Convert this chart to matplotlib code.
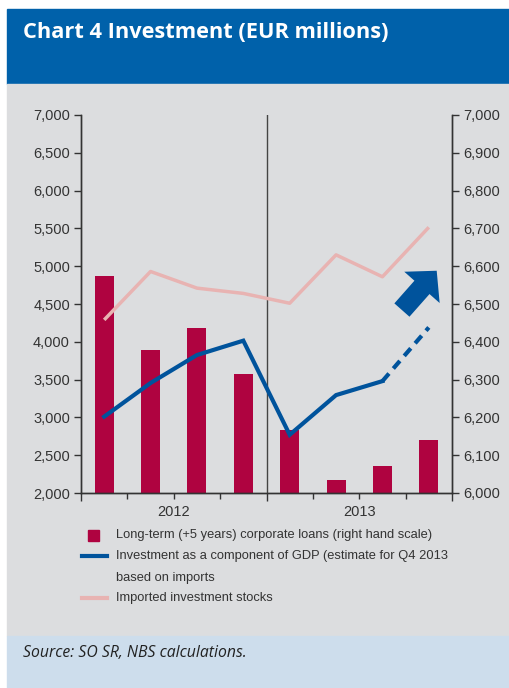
import matplotlib.pyplot as plt
import matplotlib.patches as mpatches
from matplotlib.lines import Line2D
import numpy as np

# quarterly data, Q1 2012 .. Q4 2013
years = ["2012", "2013"]
loans = [6574, 6378, 6436, 6315, 6167, 6034, 6071, 6140]          # right hand scale
investment = [3010, 3455, 3825, 4015, 2770, 3295, 3480, 4190]     # Q4 2013 is an estimate
imports = [4290, 4930, 4710, 4640, 4510, 5150, 4860, 5515]

left_ticks = list(range(2000, 7001, 500))
right_ticks = list(range(6000, 7001, 100))

title = "Chart 4 Investment (EUR millions)"
source = "Source: SO SR, NBS calculations."
legend_labels = [
    "Long-term (+5 years) corporate loans (right hand scale)",
    "Investment as a component of GDP (estimate for Q4 2013\nbased on imports",
    "Imported investment stocks",
]

BAR = "#AF0340"
BLUE = "#00539C"
PINK = "#E8B3B2"
TXT = "#333333"
FONT = ["Liberation Sans", "DejaVu Sans"]

W, H = 509, 688
fig = plt.figure(figsize=(W / 100, H / 100), dpi=100)
fig.patch.set_facecolor("white")

def box(x0, y0, x1, y1, color):
    # pixel box -> figure fraction rectangle
    fig.patches.append(mpatches.Rectangle((x0 / W, 1 - y1 / H), (x1 - x0) / W, (y1 - y0) / H,
                                          transform=fig.transFigure, color=color, zorder=-10))

box(7, 9, 509, 83.5, "#0061AA")
box(7, 83.5, 509, 636, "#DCDDDF")
box(7, 636, 509, 688, "#CDDDEC")

fig.text(23 / W, 1 - 32.5 / H, title, color="white", fontsize=15.7, fontweight="bold",
         family=["Open Sans", "DejaVu Sans"], va="center", ha="left")
fig.text(23 / W, 1 - 653 / H, source, color="#222222", fontsize=11.3, style="italic",
         family=["Open Sans", "DejaVu Sans"], va="center", ha="left")

ax = fig.add_axes([81 / W, 1 - 493 / H, 371 / W, 378 / H])
ax2 = ax.twinx()
ax.set_zorder(ax2.get_zorder() + 1)
ax.patch.set_visible(False)
ax2.patch.set_visible(False)

x = np.arange(len(loans))
ax2.bar(x, loans, width=0.41, color=BAR, zorder=2)

ax.plot(x, imports, color=PINK, lw=2.5, solid_capstyle="butt", zorder=3)
ax.plot(x[:-1], investment[:-1], color=BLUE, lw=3, solid_joinstyle="miter", zorder=4)
ax.plot(x[-2:], investment[-2:], color=BLUE, lw=3, dashes=(2.4, 1.6), zorder=4)

# trend arrow
arrow = mpatches.FancyArrowPatch((6.42, 4420), (7.17, 4940),
                                 arrowstyle="simple,head_width=34,head_length=16,tail_width=14.5",
                                 mutation_scale=1, color=BLUE, lw=0, shrinkA=0, shrinkB=0, zorder=5)
ax.add_patch(arrow)

ax.axvline(3.5, color="#444444", lw=1, zorder=1)

ax.set_xlim(-0.5, 7.5)
ax.set_ylim(2000, 7000)
ax2.set_ylim(6000, 7000)
ax.set_yticks(left_ticks)
ax.set_yticklabels([f"{v:,}" for v in left_ticks])
ax2.set_yticks(right_ticks)
ax2.set_yticklabels([f"{v:,}" for v in right_ticks])

ax.set_xticks([-0.5, 3.5, 7.5])
ax.set_xticks([0.5, 1.5, 2.5, 4.5, 5.5, 6.5], minor=True)
ax.set_xticklabels([])
ax.tick_params(axis="x", which="major", length=6, width=1, color=TXT)
ax.tick_params(axis="x", which="minor", length=4, width=1, color=TXT)
ax.tick_params(axis="y", length=5, width=1, color=TXT, labelsize=10.5, labelcolor=TXT, pad=3)
ax2.tick_params(axis="y", length=5, width=1, color=TXT, labelsize=10.5, labelcolor=TXT, pad=3)
for lab in ax.get_yticklabels() + ax2.get_yticklabels():
    lab.set_family(FONT)

for i, yr in enumerate(years):
    ax.text(1.5 + 4 * i, -0.05, yr, transform=ax.get_xaxis_transform(), ha="center", va="center",
            fontsize=10.5, color=TXT, family=FONT)

for a in (ax, ax2):
    a.spines["top"].set_visible(False)
    for s in ("left", "right", "bottom"):
        a.spines[s].set_color(TXT)
        a.spines[s].set_linewidth(1)

# legend
lx0, lx1, tx = 82 / W, 107 / W, 116 / W
fig.patches.append(mpatches.Rectangle((88 / W, 1 - 540.5 / H), 11 / W, 11 / H,
                                      transform=fig.transFigure, color=BAR))
fig.lines.append(Line2D([lx0, lx1], [1 - 556 / H] * 2, transform=fig.transFigure, color=BLUE, lw=3))
fig.lines.append(Line2D([lx0, lx1], [1 - 598 / H] * 2, transform=fig.transFigure, color=PINK, lw=3))
first, second = legend_labels[1].split("\n")
for yy, lab in zip([535, 556, 578, 598], [legend_labels[0], first, second, legend_labels[2]]):
    fig.text(tx, 1 - yy / H, lab, fontsize=9.3, color=TXT, family=FONT, va="center")

fig.savefig("out.png", dpi=100)
